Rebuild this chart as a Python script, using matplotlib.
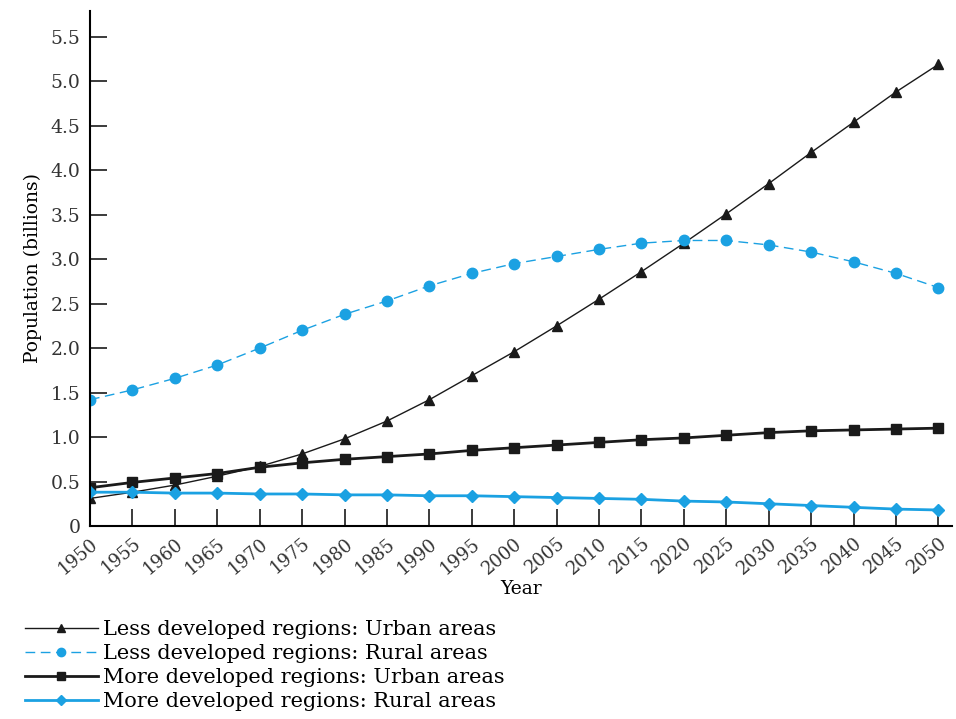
import numpy as np
import matplotlib.pyplot as plt

years = list(range(1950, 2051, 5))

less_urban = [0.31, 0.38, 0.46, 0.56, 0.67, 0.81, 0.98, 1.18, 1.42, 1.69, 1.96,
              2.25, 2.55, 2.86, 3.18, 3.51, 3.85, 4.20, 4.54, 4.88, 5.19]
less_rural = [1.42, 1.53, 1.66, 1.81, 2.00, 2.20, 2.38, 2.53, 2.70, 2.84, 2.95,
              3.03, 3.11, 3.18, 3.21, 3.21, 3.16, 3.08, 2.97, 2.84, 2.68]
more_urban = [0.43, 0.49, 0.54, 0.59, 0.66, 0.71, 0.75, 0.78, 0.81, 0.85, 0.88,
              0.91, 0.94, 0.97, 0.99, 1.02, 1.05, 1.07, 1.08, 1.09, 1.10]
more_rural = [0.38, 0.38, 0.37, 0.37, 0.36, 0.36, 0.35, 0.35, 0.34, 0.34, 0.33,
              0.32, 0.31, 0.30, 0.28, 0.27, 0.25, 0.23, 0.21, 0.19, 0.18]

labels = ['Less developed regions: Urban areas',
          'Less developed regions: Rural areas',
          'More developed regions: Urban areas',
          'More developed regions: Rural areas']

blue = '#1ba1e2'
dark = '#1a1a1a'

plt.rcParams['font.family'] = ['DejaVu Serif']

fig = plt.figure(figsize=(9.56, 7.19), dpi=100)
ax = fig.add_axes([90/956, 193/719, 862/956, 515/719])

ax.plot(years, less_urban, color=dark, lw=1.0, marker='^', ms=7, label=labels[0])
ax.plot(years, less_rural, color=blue, lw=1.0, ls=(0, (7, 4)), marker='o', ms=7.5, label=labels[1])
ax.plot(years, more_urban, color=dark, lw=2.0, marker='s', ms=6.5, label=labels[2])
ax.plot(years, more_rural, color=blue, lw=2.0, marker='D', ms=6, label=labels[3])

ax.set_xlim(1950, 2051.6)
ax.set_ylim(0, 5.79)
ax.set_xticks(years)
ax.set_xticklabels([str(y) for y in years], rotation=40, ha='right',
                   rotation_mode='anchor', fontsize=13, color='#333333')
yt = np.arange(0, 5.51, 0.5)
ax.set_yticks(yt)
ax.set_yticklabels(['0'] + ['%.1f' % v for v in yt[1:]], fontsize=13.5, color='#333333')
ax.tick_params(direction='in', length=12, width=1.2, color=dark)
ax.tick_params(axis='x', pad=6)
ax.tick_params(axis='y', pad=7)
ax.spines['top'].set_visible(False)
ax.spines['right'].set_visible(False)
ax.spines['left'].set_linewidth(1.5)
ax.spines['bottom'].set_linewidth(1.5)

ax.set_xlabel('Year', fontsize=13.5, labelpad=2)
ax.set_ylabel('Population (billions)', fontsize=13.5, labelpad=6)

fig.legend(loc='upper left', bbox_to_anchor=(0.026, 0.137), frameon=False,
           fontsize=15, handlelength=3.5, handletextpad=0.25, labelspacing=0.24,
           borderaxespad=0, borderpad=0, markerscale=0.8)

fig.savefig('out.png', dpi=100)
